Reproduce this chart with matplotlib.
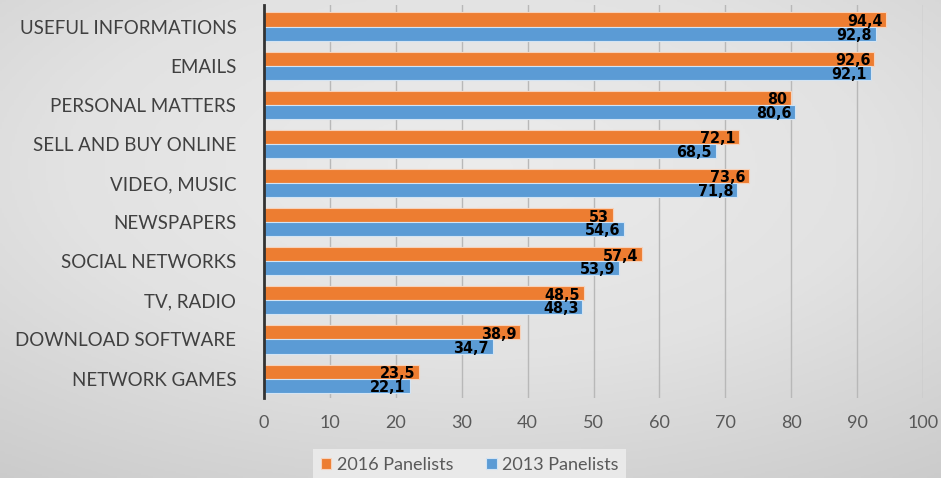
import numpy as np
from matplotlib import pyplot as plt
from matplotlib.colors import LinearSegmentedColormap

categories = ['USEFUL INFORMATIONS', 'EMAILS', 'PERSONAL MATTERS', 'SELL AND BUY ONLINE',
              'VIDEO, MUSIC', 'NEWSPAPERS', 'SOCIAL NETWORKS', 'TV, RADIO',
              'DOWNLOAD SOFTWARE', 'NETWORK GAMES']
panel_2016 = [94.4, 92.6, 80, 72.1, 73.6, 53, 57.4, 48.5, 38.9, 23.5]
panel_2013 = [92.8, 92.1, 80.6, 68.5, 71.8, 54.6, 53.9, 48.3, 34.7, 22.1]
xticks = list(range(0, 101, 10))

orange = '#ED7D31'
blue = '#5B9BD5'
grey_txt = '#404040'

fig = plt.figure(figsize=(9.41, 4.78), dpi=100)

# fondo con degradado radial claro
bg = fig.add_axes([0, 0, 1, 1], zorder=-10)
yy, xx = np.mgrid[-1:1:200j, -1:1:400j]
r = np.sqrt((xx * 0.75) ** 2 + ((yy + 0.3) * 0.8) ** 2)
cmap_bg = LinearSegmentedColormap.from_list('bg', ['#ececec', '#e2e2e2', '#cbcbcb'])
bg.imshow(r, cmap=cmap_bg, vmin=0, vmax=1.3, aspect='auto', extent=[0, 1, 0, 1])
bg.axis('off')

ax = fig.add_axes([0.2806, 0.167, 0.7004, 0.8225])
ax.patch.set_alpha(0)

y = np.arange(len(categories))
h = 0.36
b16 = ax.barh(y - h / 2, panel_2016, height=h, color=orange, edgecolor='#f6d2bb', linewidth=0.8,
              label='2016 Panelists', zorder=3)
b13 = ax.barh(y + h / 2, panel_2013, height=h, color=blue, edgecolor='#d3e4f4', linewidth=0.8,
              label='2013 Panelists', zorder=3)

def fmt(v):
    return ('%g' % v).replace('.', ',')

for vals, off in [(panel_2016, -h / 2 + 0.05), (panel_2013, h / 2 + 0.04)]:
    for i, v in enumerate(vals):
        ax.text(v - 0.6, i + off, fmt(v), ha='right', va='center', fontsize=11.5,
                fontweight='bold', color='black', fontstretch='condensed', zorder=4,
                family=['Liberation Sans Narrow', 'DejaVu Sans'])

ax.set_ylim(len(categories) - 0.5, -0.55)
ax.set_xlim(0, 100)
ax.set_xticks(xticks)
ax.set_yticks(y)
ax.set_yticklabels(categories, fontsize=13.5, color=grey_txt, family='Lato')
ax.tick_params(axis='x', length=0, pad=12, labelsize=13, labelcolor='#595959')
ax.tick_params(axis='y', length=0, pad=20)
for lab in ax.get_xticklabels():
    lab.set_family('Lato')
ax.grid(axis='x', color='#b8b8b8', linewidth=1, zorder=0)
for s in ['top', 'right', 'bottom']:
    ax.spines[s].set_visible(False)
ax.spines['left'].set_color('#333333')
ax.spines['left'].set_linewidth(2)
ax.spines['left'].set_zorder(5)

leg = fig.legend(handles=[b16, b13], loc='lower left', bbox_to_anchor=(0.333, -0.004), ncol=2,
                 frameon=True, fancybox=False, handlelength=0.6, handleheight=0.6,
                 prop={'family': 'Lato', 'size': 13}, labelcolor='#595959',
                 borderpad=0.4, borderaxespad=0, columnspacing=1.8, handletextpad=0.3)
leg.get_frame().set_facecolor('#e9e9e9')
leg.get_frame().set_edgecolor('none')
leg.get_frame().set_alpha(1)

plt.savefig('out.png', dpi=100)
